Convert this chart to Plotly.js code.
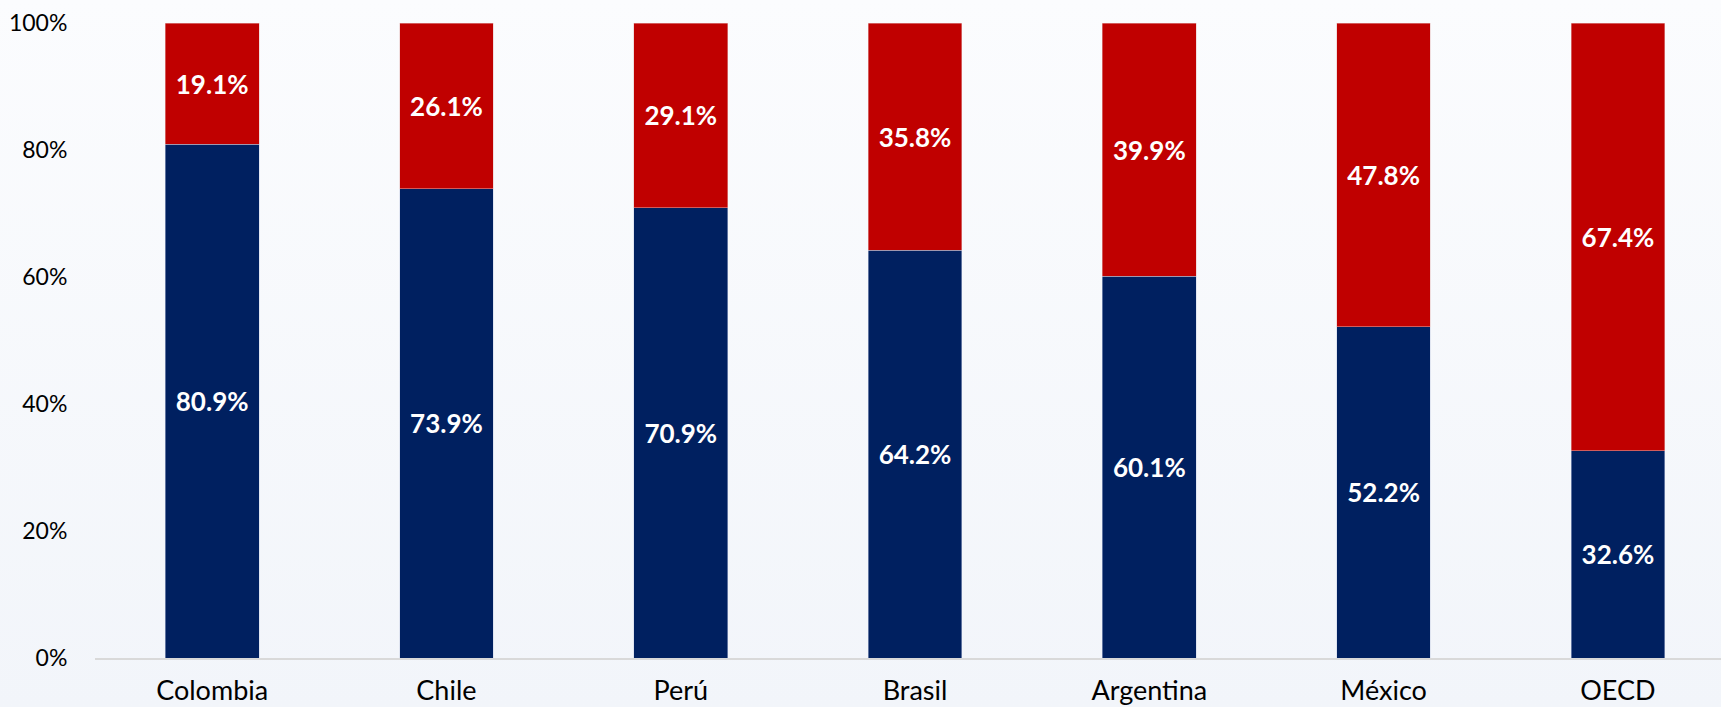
<!DOCTYPE html>
<html>
<head>
<meta charset="utf-8">
<script src="https://cdn.plot.ly/plotly-3.0.1.min.js"></script>
<style>
  html, body { margin:0; padding:0; width:1721px; height:707px; overflow:hidden;
    background: linear-gradient(to bottom, #fbfcfe 0%, #f2f5fa 100%); }
  #chart { width:1721px; height:707px; }
</style>
</head>
<body>
<div id="chart"></div>
<script>
const categories = ["Colombia", "Chile", "Perú", "Brasil", "Argentina", "México", "OECD"];
const blueValues = [80.9, 73.9, 70.9, 64.2, 60.1, 52.2, 32.6];
const redValues  = [19.1, 26.1, 29.1, 35.8, 39.9, 47.8, 67.4];
const yTickVals  = [0, 20, 40, 60, 80, 100];
const yTickText  = ["0%", "20%", "40%", "60%", "80%", "100%"];

const FONT = "Lato, 'Open Sans', sans-serif";

const common = {
  type: "bar",
  x: categories,
  width: 0.4,
  textposition: "inside",
  insidetextanchor: "middle",
  texttemplate: "%{y:.1f}%",
  textfont: { family: FONT, size: 26, color: "#ffffff", weight: "bold" },
  hoverinfo: "skip",
  constraintext: "none"
};

const traces = [
  Object.assign({}, common, { y: blueValues, marker: { color: "#002060", line: { width: 0.6, color: "rgba(200,210,230,0.8)" } } }),
  Object.assign({}, common, { y: redValues,  marker: { color: "#C00000", line: { width: 0.6, color: "rgba(230,190,190,0.8)" } } })
];

const layout = {
  barmode: "stack",
  width: 1721, height: 707,
  margin: { l: 95, r: 0, t: 23, b: 49 },
  paper_bgcolor: "rgba(0,0,0,0)",
  plot_bgcolor: "rgba(0,0,0,0)",
  showlegend: false,
  font: { family: FONT, color: "#000000" },
  xaxis: {
    range: [-0.5, 6.44],
    showline: true, linecolor: "#d9d9d9", linewidth: 1.5,
    ticks: "outside", ticklen: 8, tickcolor: "rgba(0,0,0,0)",
    tickfont: { family: FONT, size: 27, color: "#000000" },
    showgrid: false, zeroline: false, fixedrange: true
  },
  yaxis: {
    range: [0, 100],
    tickvals: yTickVals, ticktext: yTickText,
    ticks: "outside", ticklen: 22, tickcolor: "rgba(0,0,0,0)",
    tickfont: { family: FONT, size: 23, color: "#000000" },
    showgrid: false, zeroline: false, showline: false, fixedrange: true
  }
};

Plotly.newPlot("chart", traces, layout, { displayModeBar: false, staticPlot: true });
</script>
</body>
</html>
